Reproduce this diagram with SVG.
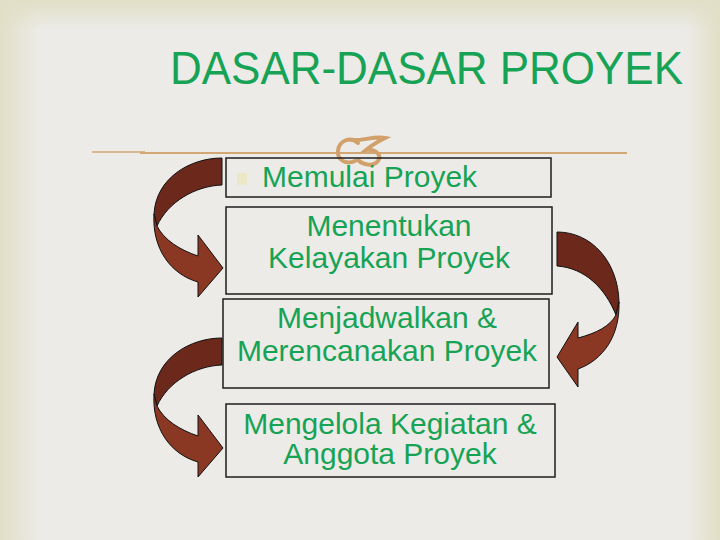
<svg xmlns="http://www.w3.org/2000/svg" width="720" height="540" viewBox="0 0 720 540">
<defs>
<linearGradient id="gl" x1="0" y1="0" x2="1" y2="0"><stop offset="0" stop-color="#e1dfc6"/><stop offset="1" stop-color="#e1dfc6" stop-opacity="0"/></linearGradient>
<linearGradient id="gr" x1="1" y1="0" x2="0" y2="0"><stop offset="0" stop-color="#e1dfc6"/><stop offset="1" stop-color="#e1dfc6" stop-opacity="0"/></linearGradient>
<linearGradient id="gt" x1="0" y1="0" x2="0" y2="1"><stop offset="0" stop-color="#e1dfc6"/><stop offset="1" stop-color="#e1dfc6" stop-opacity="0"/></linearGradient>
<style>
.box{fill:none;stroke:#1e1e1e;stroke-width:1.5}
.t{font-family:"Liberation Sans",Arial,sans-serif;fill:#17a355;font-size:30px;text-anchor:middle}
.dark{fill:#6b281b;stroke:#111;stroke-width:1}
.light{fill:#8a3824;stroke:#111;stroke-width:1}
.orn{fill:none;stroke:#d2a06a;stroke-width:4;stroke-linecap:round}
</style>
</defs>
<rect width="720" height="540" fill="#ecebe8"/>
<rect width="40" height="540" fill="url(#gl)"/>
<rect x="685" width="35" height="540" fill="url(#gr)"/>
<rect width="720" height="30" fill="url(#gt)"/>

<text x="170" y="84" font-family="'Liberation Sans',Arial,sans-serif" font-size="46" fill="#17a355" textLength="513" lengthAdjust="spacingAndGlyphs">DASAR-DASAR PROYEK</text>

<g id="rule">
<line x1="92" y1="152" x2="145" y2="152" stroke="#d3a774" stroke-width="1.5"/>
<line x1="140" y1="153" x2="627" y2="153" stroke="#d3a774" stroke-width="2"/>
<path class="orn" d="M358,143 C351,136 339,140 338,151 C337,160 346,165 355,161"/>
<path class="orn" d="M352,140 C362,141 374,136 385,138 C379,141 372,145 366,150 C376,149 382,155 378,161 C373,167 363,165 358,160"/>
</g>

<g id="connectors">
<g id="arrow1">
<path class="dark" d="M222,158 C190,158 156,178 154,214 L157,226 C168,202 195,186 222,185 Z"/>
<path class="light" d="M154,214 C152,248 170,274 198,282 L198,297 L223,268 L198,235 L198,256 C180,250 164,240 157,226 Z"/>
</g>
<g id="arrow2">
<path class="dark" d="M557,232 C592,232 618,262 619,302 L616,315 C605,288 585,268 557,266 Z"/>
<path class="light" d="M619,302 C620,336 603,360 578,369 L578,387 L557,357 L578,322 L578,338 C597,333 610,326 616,315 Z"/>
</g>
<g id="arrow3" transform="translate(0,180)">
<path class="dark" d="M222,158 C190,158 156,178 154,214 L157,226 C168,202 195,186 222,185 Z"/>
<path class="light" d="M154,214 C152,248 170,274 198,282 L198,297 L223,268 L198,235 L198,256 C180,250 164,240 157,226 Z"/>
</g>
</g>

<g id="node1">
<rect class="box" x="226" y="158" width="325" height="39"/>
<rect x="237" y="173" width="10" height="12" fill="#ebe8c8"/>
<text class="t" x="262" y="187" style="text-anchor:start">Memulai Proyek</text>
</g>
<g id="node2">
<rect class="box" x="226" y="207" width="326" height="87"/>
<text class="t" x="389" y="236">Menentukan</text>
<text class="t" x="389" y="268">Kelayakan Proyek</text>
</g>
<g id="node3">
<rect class="box" x="223" y="299" width="326" height="89"/>
<text class="t" x="387" y="328">Menjadwalkan &amp;</text>
<text class="t" x="387" y="361">Merencanakan Proyek</text>
</g>
<g id="node4">
<rect class="box" x="226" y="404" width="329" height="73"/>
<text class="t" x="390" y="434">Mengelola Kegiatan &amp;</text>
<text class="t" x="390" y="464">Anggota Proyek</text>
</g>
</svg>
